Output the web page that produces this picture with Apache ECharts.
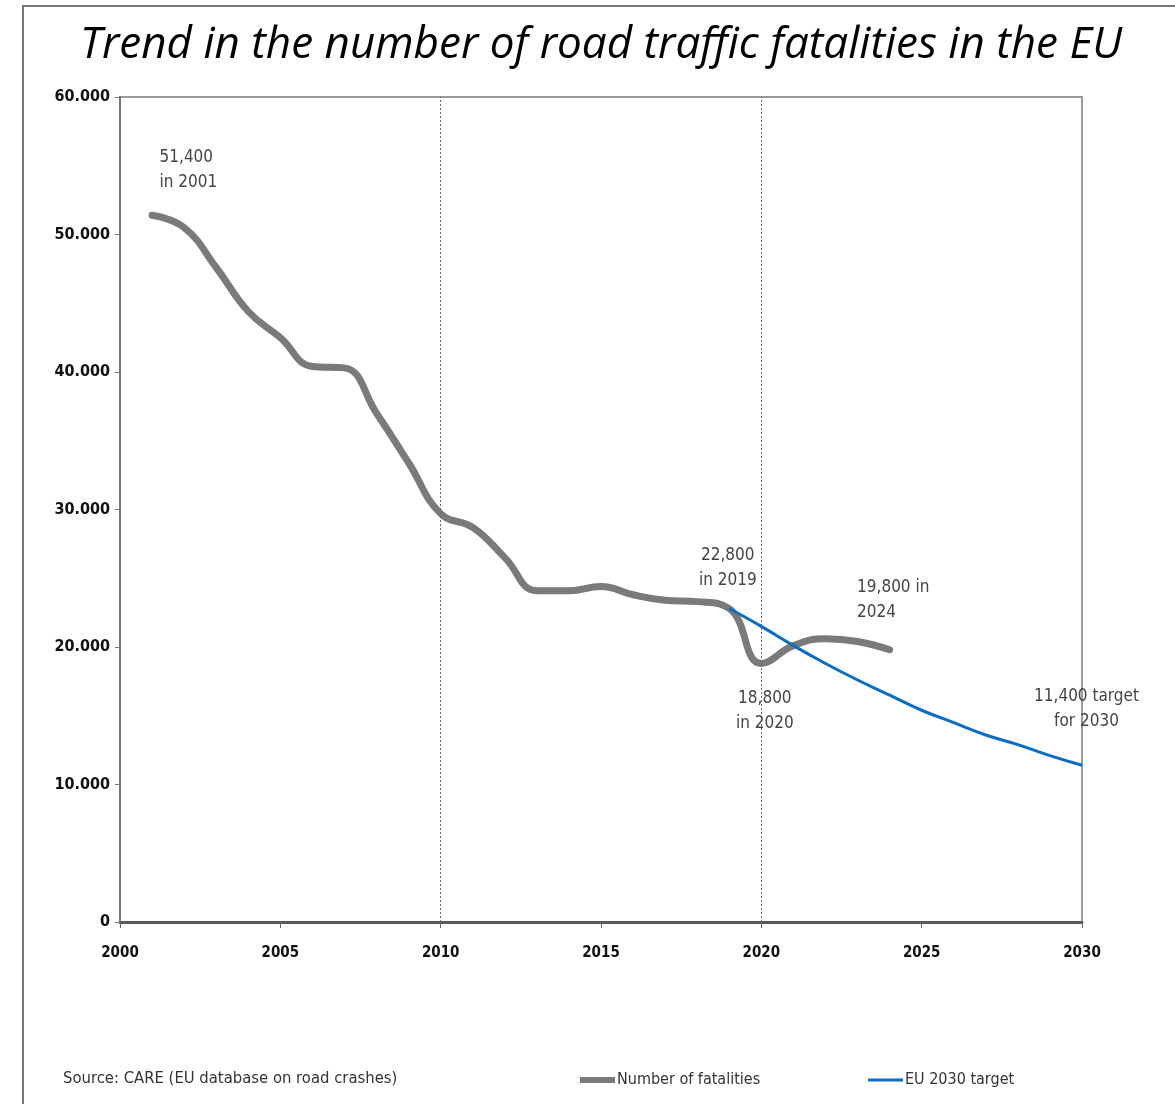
<!DOCTYPE html>
<html>
<head>
<meta charset="utf-8">
<script src="https://cdn.jsdelivr.net/npm/echarts@6/dist/echarts.min.js"></script>
<style>
html,body{margin:0;padding:0;background:#fff;}
#chart{width:1175px;height:1104px;}
</style>
</head>
<body>
<div id="chart"></div>
<script>
// ---- data ----
const titleText = 'Trend in the number of road traffic fatalities in the EU';
const sourceText = 'Source: CARE (EU database on road crashes)';
const seriesNames = ['Number of fatalities', 'EU 2030 target'];
const fatalityYears = [2001,2002,2003,2004,2005,2006,2007,2008,2009,2010,2011,2012,2013,2014,2015,2016,2017,2018,2019,2020,2021,2022,2023,2024];
const fatalityValues = [51400,50500,47600,44400,42500,40400,40300,37000,33400,29700,28700,26500,24100,24100,24400,23800,23400,23300,22800,18800,20100,20600,20400,19800];
const targetYears = [2019,2020,2021,2022,2023,2024,2025,2026,2027,2028,2029,2030];
const targetValues = [22800,21500,20100,18800,17600,16500,15400,14500,13600,12900,12100,11400];
const refYears = [2010, 2020];
const xTicks = {min: 2000, max: 2030, step: 5};
const yTicks = {min: 0, max: 60000, step: 10000};
const fatalityNotes = [
  {year: 2001, value: 51400, text: '51,400\nin 2001'},
  {year: 2019, value: 22800, text: '22,800\nin 2019'},
  {year: 2024, value: 19800, text: '19,800 in\n2024'},
  {year: 2020, value: 18800, text: '18,800\nin 2020'}
];
const targetNotes = [
  {year: 2030, value: 11400, text: '11,400 target\nfor 2030'}
];

// ---- styles (positions of annotation text relative to the point) ----
const noteStyle = {
  2001: {align: 'left', pos: [8, -45]},
  2019: {align: 'center', pos: [-1, -40]},
  2024: {align: 'left', pos: [-32, -49]},
  2020: {align: 'center', pos: [4, 48]},
  2030: {align: 'center', pos: [5, -56]}
};
const narrow = "'Liberation Sans Narrow', 'DejaVu Sans Condensed', sans-serif";
const condBold = "'DejaVu Sans Condensed', 'Liberation Sans Narrow', sans-serif";

function notePoints(notes) {
  return notes.map(n => ({
    coord: [n.year, n.value],
    symbol: 'circle',
    symbolSize: 1,
    itemStyle: {color: 'rgba(0,0,0,0)'},
    label: {
      show: true,
      formatter: n.text,
      position: noteStyle[n.year].pos,
      align: noteStyle[n.year].align,
      verticalAlign: 'middle',
      fontFamily: narrow,
      fontSize: 17,
      lineHeight: 25,
      color: '#444'
    }
  }));
}

const legendCommon = {
  top: 1072,
  padding: 0,
  itemWidth: 35,
  icon: 'rect',
  selectedMode: false,
  textStyle: {fontFamily: narrow, fontSize: 16, color: '#333', padding: [0, 0, 0, -3]}
};

const chart = echarts.init(document.getElementById('chart'), null, {renderer: 'canvas'});
chart.setOption({
  animation: false,
  backgroundColor: '#fff',
  graphic: [
    {type: 'rect', shape: {x: 23, y: 6, width: 1300, height: 1300}, style: {fill: 'none', stroke: '#777', lineWidth: 2}, silent: true},
    {type: 'text', x: 601, y: 45, style: {text: titleText, font: "italic 44px 'Open Sans', sans-serif", fill: '#000', textAlign: 'center', textVerticalAlign: 'middle'}},
    {type: 'text', x: 63, y: 1079, style: {text: sourceText, font: "16.5px " + narrow, fill: '#333', textAlign: 'left', textVerticalAlign: 'middle'}}
  ],
  legend: [
    Object.assign({}, legendCommon, {data: [seriesNames[0]], left: 580, itemHeight: 6}),
    Object.assign({}, legendCommon, {data: [seriesNames[1]], left: 868, itemHeight: 3})
  ],
  grid: {left: 120, right: 93, top: 97, bottom: 182, show: true, borderColor: '#999', borderWidth: 2, backgroundColor: 'transparent'},
  xAxis: {
    type: 'value',
    min: xTicks.min, max: xTicks.max, interval: xTicks.step,
    axisLine: {show: true, lineStyle: {color: '#5a5a5a', width: 3}},
    axisTick: {show: true, length: 6, lineStyle: {color: '#666', width: 1}},
    splitLine: {show: false},
    axisLabel: {fontFamily: condBold, fontWeight: 'bold', fontSize: 15, color: '#111', margin: 24, formatter: v => String(v)}
  },
  yAxis: {
    type: 'value',
    min: yTicks.min, max: yTicks.max, interval: yTicks.step,
    axisLine: {show: true, lineStyle: {color: '#777', width: 2}},
    axisTick: {show: true, length: 5, lineStyle: {color: '#777', width: 1}},
    splitLine: {show: false},
    axisLabel: {fontFamily: condBold, fontWeight: 'bold', fontSize: 16, color: '#111', margin: 10,
      formatter: v => v === 0 ? '0' : String(v / 1000) + '.000'}
  },
  series: [
    {
      name: seriesNames[0],
      type: 'line',
      data: fatalityYears.map((y, i) => [y, fatalityValues[i]]),
      smooth: 0.45,
      symbol: 'none',
      lineStyle: {color: '#7a7a7a', width: 7, cap: 'round', join: 'round'},
      itemStyle: {color: '#7a7a7a'},
      z: 2,
      markLine: {
        silent: true,
        symbol: 'none',
        label: {show: false},
        lineStyle: {color: '#666', type: [2, 2], width: 1},
        data: refYears.map(y => ({xAxis: y}))
      },
      markPoint: {silent: true, data: notePoints(fatalityNotes)}
    },
    {
      name: seriesNames[1],
      type: 'line',
      data: targetYears.map((y, i) => [y, targetValues[i]]),
      smooth: 0.45,
      symbol: 'none',
      lineStyle: {color: '#0a6cc4', width: 3},
      itemStyle: {color: '#0a6cc4'},
      z: 3,
      markPoint: {silent: true, data: notePoints(targetNotes)}
    }
  ]
});
</script>
</body>
</html>
